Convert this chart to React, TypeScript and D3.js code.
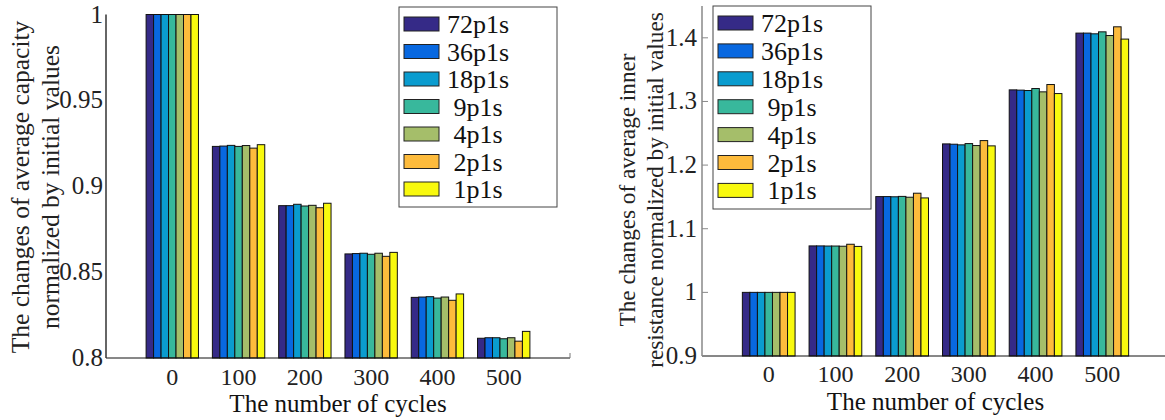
import * as d3 from "d3"
import React from "react"

const cycles = ["0", "100", "200", "300", "400", "500"]
const series = ["72p1s", "36p1s", "18p1s", "9p1s", "4p1s", "2p1s", "1p1s"]
const colors = ["#352a87", "#0868e0", "#0a9ccf", "#38b89c", "#a5be6a", "#fdbb3c", "#f8f90e"]

// rows = cycles, columns = series
const capacity = [
  [1, 1, 1, 1, 1, 1, 1],
  [0.9232, 0.9234, 0.9238, 0.9232, 0.9237, 0.9222, 0.9242],
  [0.8887, 0.8887, 0.8895, 0.8885, 0.8889, 0.8875, 0.8901],
  [0.8606, 0.8608, 0.861, 0.8604, 0.861, 0.8592, 0.8615],
  [0.8353, 0.8355, 0.8357, 0.8349, 0.8355, 0.8336, 0.8373],
  [0.8115, 0.8118, 0.8118, 0.8112, 0.8118, 0.8098, 0.8155],
]
const resistance = [
  [1, 1, 1, 1, 1, 1, 1],
  [1.073, 1.073, 1.0728, 1.0728, 1.0725, 1.0756, 1.0722],
  [1.1505, 1.1505, 1.1502, 1.1508, 1.1495, 1.1558, 1.1484],
  [1.2333, 1.2328, 1.2318, 1.2338, 1.2307, 1.2385, 1.2302],
  [1.3182, 1.3178, 1.3172, 1.3203, 1.3151, 1.3266, 1.3124],
  [1.4074, 1.4074, 1.4063, 1.4094, 1.4036, 1.4173, 1.398],
]
const capTicks = [0.8, 0.85, 0.9, 0.95, 1]
const capTickLabels = ["0.8", "0.85", "0.9", "0.95", "1"]
const resTicks = [0.9, 1, 1.1, 1.2, 1.3, 1.4]
const resTickLabels = ["0.9", "1", "1.1", "1.2", "1.3", "1.4"]

const font = "Liberation Serif, DejaVu Serif, serif"

const Panel = (props: any) => {
  const { data, ticks, tickLabels, yDomain, yRange, x0, xEnd, baseY, labelLines, labelX, labelY, labelSize, legendX, legendY, legendW, legendH, rowStep, axisColor, tickMarks, tickX, xLabelY, titleY } = props
  const xScale = d3.scaleLinear().domain([-1, 6]).range([x0, xEnd])
  const yScale = d3.scaleLinear().domain(yDomain).range(yRange)
  const step = xScale(1) - xScale(0)
  const groupW = step * 0.79
  const barW = groupW / series.length
  return (
    <g style={{ fontFamily: font }}>
      {data.map((row: number[], i: number) => {
        const cx = xScale(i)
        return row.map((v, j) => (
          <rect
            key={i + "-" + j}
            x={cx - groupW / 2 + j * barW}
            y={yScale(v)}
            width={barW}
            height={baseY - yScale(v)}
            fill={colors[j]}
            stroke="#111"
            strokeWidth={1}
          />
        ))
      })}
      <line x1={x0} y1={baseY} x2={xEnd} y2={baseY} stroke="#111" strokeWidth={1} />
      <line x1={xEnd} y1={baseY} x2={xEnd} y2={baseY - 5} stroke="#777" strokeWidth={1} />
      <line x1={x0} y1={baseY} x2={x0} y2={yRange[1]} stroke={axisColor} strokeWidth={1.5} />
      {ticks.map((t: number, i: number) => (
        <g key={t}>
          {tickMarks && <line x1={x0} y1={yScale(t)} x2={x0 + 6} y2={yScale(t)} stroke={axisColor} strokeWidth={1} />}
          <text x={tickX} y={yScale(t) + 8} textAnchor="end" fontSize={25} fill="#222">{tickLabels[i]}</text>
        </g>
      ))}
      {cycles.map((c, i) => (
        <text key={c} x={xScale(i)} y={xLabelY} textAnchor="middle" fontSize={24} fill="#222">{c}</text>
      ))}
      <text x={xScale(2.5)} y={titleY} textAnchor="middle" fontSize={25} fill="#111">The number of cycles</text>
      {labelLines.map((l: string, k: number) => (
        <text key={l} transform={`translate(${labelX[k]},${labelY}) rotate(-90)`} textAnchor="middle" fontSize={labelSize} fill="#222">{l}</text>
      ))}
      <rect x={legendX} y={legendY} width={legendW} height={legendH} fill="#fff" stroke="#444" strokeWidth={1} />
      {series.map((s, j) => {
        const cy = legendY + 17 + j * rowStep
        return (
          <g key={s}>
            <rect x={legendX + 5} y={cy - 7} width={35} height={14} fill={colors[j]} stroke="#222" strokeWidth={1} />
            <text x={legendX + 79} y={cy + 9} textAnchor="middle" fontSize={26} fill="#111">{s}</text>
          </g>
        )
      })}
    </g>
  )
}

export default function App() {
  return (
    <svg width={1165} height={420} style={{ position: "absolute", left: 0, top: 0, background: "#fff" }}>
      <rect width={1165} height={420} fill="#fff" />
      <Panel
        data={capacity}
        ticks={capTicks}
        tickLabels={capTickLabels}
        yDomain={[0.8, 1]}
        yRange={[358, 14.5]}
        x0={106}
        xEnd={570}
        baseY={358}
        labelLines={["The changes of average capacity", "normalized by initial values"]}
        labelX={[29, 59]}
        labelY={187}
        labelSize={25.5}
        legendX={399}
        legendY={7}
        legendW={158}
        legendH={200}
        rowStep={27.5}
        axisColor="#333"
        tickMarks={false}
        tickX={103}
        xLabelY={385}
        titleY={412}
      />
      <Panel
        data={resistance}
        ticks={resTicks}
        tickLabels={resTickLabels}
        yDomain={[0.9, 1.45]}
        yRange={[356, 6]}
        x0={702}
        xEnd={1169}
        baseY={356}
        labelLines={["The changes of average inner", "resistance normalized by initial values"]}
        labelX={[635, 663]}
        labelY={190}
        labelSize={23.2}
        legendX={713}
        legendY={6}
        legendW={158}
        legendH={203}
        rowStep={27.9}
        axisColor="#888"
        tickMarks={true}
        tickX={697}
        xLabelY={382}
        titleY={410}
      />
    </svg>
  )
}
